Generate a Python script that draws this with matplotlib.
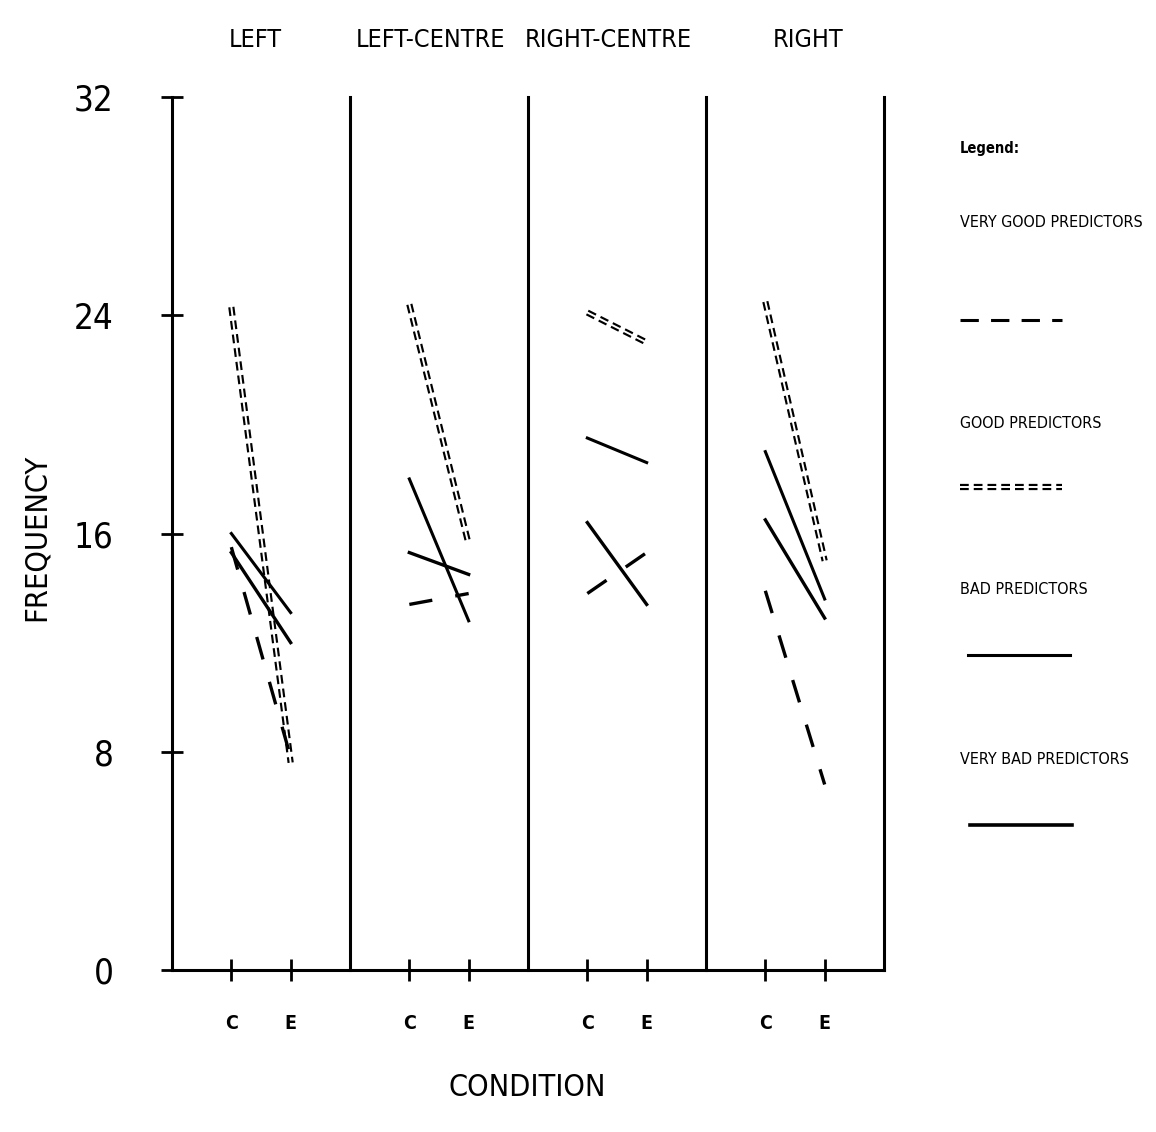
import matplotlib
matplotlib.use('Agg')
import matplotlib.pyplot as plt
from matplotlib import font_manager
from matplotlib.lines import Line2D

# Data (frequency at conditions C and E, per position)
panels = ['LEFT', 'LEFT-CENTRE', 'RIGHT-CENTRE', 'RIGHT']
conditions = ['C', 'E']
series_names = ['VERY GOOD PREDICTORS', 'GOOD PREDICTORS', 'BAD PREDICTORS', 'VERY BAD PREDICTORS']
very_good = [[15.5, 7.8], [13.4, 13.8], [13.8, 15.3], [13.9, 6.8]]
good = [[24.3, 7.6], [24.4, 15.6], [24.1, 23.0], [24.5, 15.0]]
bad = [[16.0, 13.1], [18.0, 12.8], [19.5, 18.6], [19.0, 13.6]]
very_bad = [[15.3, 12.0], [15.3, 14.5], [16.4, 13.4], [16.5, 12.9]]
yticks = [0, 8, 16, 24, 32]

# narrow font if there is one
names = {f.name for f in font_manager.fontManager.ttflist}
if 'Liberation Sans Narrow' in names:
    FONT = dict(family='Liberation Sans Narrow')
    k = 1.2
else:
    FONT = dict(family='DejaVu Sans', stretch='condensed')
    k = 1.0

W, H = 1156, 1132
fig = plt.figure(figsize=(W / 100, H / 100), dpi=100)
ax = fig.add_axes([172 / W, 1 - 970 / H, (884 - 172) / W, (970 - 97) / H])

ax.set_xlim(0, 12)
ax.set_ylim(0, 32)
for s in ['top', 'right']:
    ax.spines[s].set_visible(False)
for s in ['left', 'bottom']:
    ax.spines[s].set_linewidth(2.2)
for xd in [3, 6, 9, 12]:
    ax.axvline(xd, color='black', lw=2.2, clip_on=False)


def xs(i):
    return [3 * i + 1, 3 * i + 2]


for i in range(len(panels)):
    # good predictors: double dashed
    ax.plot(xs(i), good[i], color='black', lw=4.5, linestyle=(0, (1.4, 0.8)),
            solid_capstyle='butt', zorder=2)
    ax.plot(xs(i), good[i], color='white', lw=1.4, zorder=2.1)
    ax.plot(xs(i), bad[i], color='black', lw=2.2, zorder=3)
    ax.plot(xs(i), very_bad[i], color='black', lw=2.4, zorder=3)
    ax.plot(xs(i), very_good[i], color='black', lw=2.4, linestyle=(0, (7, 7)), zorder=3)

ax.set_yticks(yticks)
ax.set_yticklabels([str(v) for v in yticks], fontsize=25 * k, **FONT)
ax.set_xticks([x for i in range(len(panels)) for x in xs(i)])
ax.set_xticklabels(conditions * len(panels), fontsize=14 * k, fontweight='bold', **FONT)
ax.tick_params(axis='y', direction='inout', length=16, width=2, pad=34)
ax.tick_params(axis='x', direction='inout', length=16, width=2, pad=24)

fig.text(36 / W, 1 - 537 / H, 'FREQUENCY', rotation=90, ha='center', va='center',
         fontsize=22 * k, **FONT)
fig.text(527 / W, 1 - 1087 / H, 'CONDITION', ha='center', va='center',
         fontsize=22 * k, **FONT)

title_x = [255, 431, 608, 808]
for t, px in zip(panels, title_x):
    fig.text(px / W, 1 - 40 / H, t, ha='center', va='center', fontsize=18 * k, **FONT)

# legend
fig.text(960 / W, 1 - 148 / H, 'Legend:', ha='left', va='center', fontsize=10.5 * k,
         fontweight='bold', **FONT)
label_y = [222, 423, 590, 760]
sample_y = [320, 487, 655, 825]
for name, ly in zip(series_names, label_y):
    fig.text(960 / W, 1 - ly / H, name, ha='left', va='center', fontsize=11.5 * k, **FONT)


def fig_line(y, x0, x1, color='black', **kw):
    fig.add_artist(Line2D([x0 / W, x1 / W], [1 - y / H, 1 - y / H],
                          transform=fig.transFigure, color=color, **kw))


fig_line(sample_y[0], 960, 1062, lw=2.2, linestyle=(0, (6, 4)))
fig_line(sample_y[1], 960, 1062, lw=4.5, linestyle=(0, (1.4, 0.8)), solid_capstyle='butt')
fig_line(sample_y[1], 960, 1062, color='white', lw=1.4)
fig_line(sample_y[2], 968, 1070, lw=2.2)
fig_line(sample_y[3], 970, 1072, lw=2.6)

fig.savefig('out.png', dpi=100)
